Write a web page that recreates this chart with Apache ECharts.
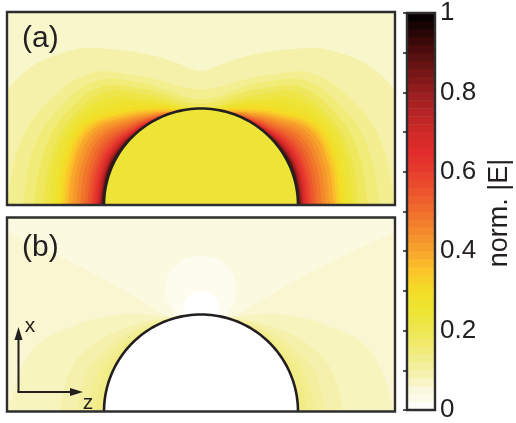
<!DOCTYPE html>
<html>
<head>
<meta charset="utf-8">
<script src="https://cdn.jsdelivr.net/npm/echarts/dist/echarts.min.js"></script>
<style>
  html, body { margin: 0; padding: 0; background: #ffffff; }
  #chart { width: 516px; height: 423px; }
</style>
</head>
<body>
<div id="chart"></div>
<script>
// Polar sample angles (degrees, measured from the substrate plane up to the x axis)
const PHI = [0, 20, 35, 50, 62, 72, 80, 90];

// (a) contour levels of norm. |E| around the particle (radius = 100) and their radii
const levelsA = [0.08, 0.11, 0.14, 0.17, 0.20, 0.23, 0.26, 0.29, 0.32, 0.35, 0.38, 0.41, 0.44, 0.47,
                 0.50, 0.53, 0.56, 0.59, 0.62, 0.65, 0.68, 0.71, 0.74, 0.77, 0.80, 0.83, 0.86, 0.89, 0.92, 0.95];
const radiiA = [
  [246, 232, 230, 209, 182, 163, 150, 139],
  [200, 197, 190, 178, 153, 136, 125, 120],
  [184, 182, 177, 168, 145, 127, 115, 110],
  [172, 171, 168, 160, 137, 121, 110, 105],
  [163, 163, 161, 153, 130, 115, 105, 101.5],
  [157, 158, 157, 145, 124, 111, 103.5, 100.5],
  [151, 152, 151, 137, 120, 108.5, 102, 100],
  [146.5, 148, 147, 129, 115.5, 106, 101, 100],
  [143, 144.6, 143, 124.6, 112.3, 104.1, 100, 100],
  [140, 141, 140, 122, 110.3, 103.1, 100, 100],
  [136.9, 138, 136.9, 119.5, 108.7, 102, 100, 100],
  [132.8, 133.9, 132.8, 116.9, 107.2, 101.5, 100, 100],
  [128.7, 129.8, 128.7, 114.4, 105.6, 101, 100, 100],
  [124.6, 125.7, 124.6, 111.8, 104.6, 100.5, 100, 100],
  [120.5, 121.5, 120.5, 109.7, 103.6, 100, 100, 100],
  [117.4, 118, 116.9, 107.7, 102.6, 100, 100, 100],
  [114.4, 114.9, 113.9, 106.2, 101.8, 100, 100, 100],
  [111.8, 112.3, 111.3, 104.9, 101.2, 100, 100, 100],
  [109.7, 110.3, 109.2, 103.9, 100.8, 100, 100, 100],
  [108.2, 108.5, 107.7, 103.1, 100.5, 100, 100, 100],
  [107, 107.2, 106.4, 102.5, 100.2, 100, 100, 100],
  [105.8, 106.1, 105.3, 101.9, 100, 100, 100, 100],
  [104.9, 105.1, 104.4, 101.5, 100, 100, 100, 100],
  [104.1, 104.3, 103.6, 101.1, 100, 100, 100, 100],
  [103.4, 103.5, 102.9, 100.8, 100, 100, 100, 100],
  [102.8, 102.9, 102.3, 100.5, 100, 100, 100, 100],
  [102.2, 102.3, 101.7, 100.3, 100, 100, 100, 100],
  [101.6, 101.7, 101.2, 100.1, 100, 100, 100, 100],
  [101.1, 101.2, 100.8, 100, 100, 100, 100, 100],
  [100.6, 100.7, 100.4, 100, 100, 100, 100, 100]
];
const backgroundA = 0.065;
const insideA = 0.245;

// (b) field of the second case: side lobes near the substrate and a minimum above the particle
const backgroundB = 0.06;
const levelsB = [0.07, 0.085, 0.10, 0.115, 0.13];
const topLevelB = 0.145;
const radiiB = [
  [199, 184.6, 156, 130.3, 112.8, 102.6, 100, 100],
  [146.2, 140, 127.7, 114.4, 106.2, 101, 100, 100],
  [127.7, 124.1, 116.4, 108.7, 103.6, 100.5, 100, 100],
  [117.4, 114.9, 110.3, 105.6, 102.1, 100, 100, 100],
  [109.2, 107.7, 105.1, 102.6, 101, 100, 100, 100]
];
// low-field regions above the particle (left half, mirrored about z = 0): [z, x]
const wedgeValueB = 0.045;
const wedgeB = [[0, 228.4], [-227.8, 228.4], [-227.8, 200.5], [-200, 185], [-155.7, 164.4],
                [-104.1, 138.7], [-62.9, 115], [-42.3, 102.6], [-16.5, 84], [0, 84]];
const haloValueB = 0.025;
const haloB = [[0, 160.3], [-16.5, 157.2], [-29.9, 146.9], [-36.1, 131.4], [-35.1, 116],
               [-28.9, 102.6], [-21.6, 91.2], [0, 88.1]];
const spotValueB = 0.0;
const spotB = [[0, 123.2], [-9.3, 121.6], [-15.5, 116.5], [-18, 108.8], [-17.5, 100.5],
               [-13.4, 92.3], [0, 92.3]];
const insideB = 0.0;

// colour scale of the colour bar
const cmapStops = [
  [0.00, '#ffffff'], [0.05, '#faf8dc'], [0.10, '#f4f0a4'], [0.15, '#f1eb7c'], [0.20, '#eee752'],
  [0.25, '#ede434'], [0.30, '#f3de26'], [0.35, '#fcc52a'], [0.40, '#f8a42b'], [0.45, '#f4892c'],
  [0.50, '#f06e2c'], [0.55, '#ec552d'], [0.60, '#e83d2e'], [0.65, '#e22d2c'], [0.70, '#cf2828'],
  [0.75, '#b42424'], [0.80, '#981e1e'], [0.85, '#761616'], [0.90, '#520e0e'], [0.95, '#2a0606'],
  [1.00, '#000000']
];
const barLabels = ['0', '0.2', '0.4', '0.6', '0.8', '1'];
const barSteps = 50;

const FONT = '"Liberation Sans", Arial, Helvetica, sans-serif';
const INK = '#231f20';

function hexRgb(h) {
  return [parseInt(h.slice(1, 3), 16), parseInt(h.slice(3, 5), 16), parseInt(h.slice(5, 7), 16)];
}
function cmap(v) {
  v = Math.max(0, Math.min(1, v));
  for (let i = 1; i < cmapStops.length; i++) {
    if (v <= cmapStops[i][0]) {
      const v0 = cmapStops[i - 1][0], v1 = cmapStops[i][0];
      const a = hexRgb(cmapStops[i - 1][1]), b = hexRgb(cmapStops[i][1]);
      const t = (v - v0) / (v1 - v0);
      const c = a.map((x, k) => Math.round(x + (b[k] - x) * t));
      return 'rgb(' + c.join(',') + ')';
    }
  }
  return '#000000';
}

function ringPoints(api, radii) {
  const pts = [];
  for (let i = 0; i < PHI.length; i++) {
    const t = PHI[i] * Math.PI / 180;
    pts.push(api.coord([-radii[i] * Math.cos(t), radii[i] * Math.sin(t)]));
  }
  for (let i = PHI.length - 2; i >= 0; i--) {
    const t = PHI[i] * Math.PI / 180;
    pts.push(api.coord([radii[i] * Math.cos(t), radii[i] * Math.sin(t)]));
  }
  pts.push(api.coord([radii[0], -20]));
  pts.push(api.coord([-radii[0], -20]));
  return pts;
}
function mirrorPoints(api, half) {
  const full = half.concat(half.slice(1, -1).reverse().map(p => [-p[0], p[1]]));
  return full.map(p => api.coord(p));
}
function circlePoints(api) {
  const pts = [];
  for (let a = 0; a <= 180; a += 2) {
    const t = a * Math.PI / 180;
    pts.push(api.coord([-100 * Math.cos(t), 100 * Math.sin(t)]));
  }
  return pts;
}

// drawing lists for the two field panels
const itemsA = [{ kind: 'bg', value: backgroundA }];
levelsA.forEach((L, i) => itemsA.push({
  kind: 'ring', radii: radiiA[i],
  value: (L + (i + 1 < levelsA.length ? levelsA[i + 1] : 1)) / 2
}));
itemsA.push({ kind: 'sphere', value: insideA });
itemsA.push({ kind: 'outline' });

const itemsB = [{ kind: 'bg', value: backgroundB }];
itemsB.push({ kind: 'free', pts: wedgeB, value: wedgeValueB });
itemsB.push({ kind: 'free', pts: haloB, value: haloValueB });
itemsB.push({ kind: 'free', pts: spotB, value: spotValueB });
levelsB.forEach((L, i) => itemsB.push({
  kind: 'ring', radii: radiiB[i],
  value: (L + (i + 1 < levelsB.length ? levelsB[i + 1] : topLevelB)) / 2
}));
itemsB.push({ kind: 'sphere', value: insideB });
itemsB.push({ kind: 'outline' });

function fieldRenderer(items) {
  return function (params, api) {
    const it = items[params.dataIndex];
    const cs = params.coordSys;
    const z2 = params.dataIndex;
    if (it.kind === 'bg') {
      return { type: 'rect', z2: z2, silent: true,
        shape: { x: cs.x, y: cs.y, width: cs.width, height: cs.height },
        style: { fill: cmap(it.value) } };
    }
    if (it.kind === 'ring') {
      return { type: 'polygon', z2: z2, silent: true,
        shape: { points: ringPoints(api, it.radii), smooth: 0.4 },
        style: { fill: cmap(it.value) } };
    }
    if (it.kind === 'free') {
      return { type: 'polygon', z2: z2, silent: true,
        shape: { points: mirrorPoints(api, it.pts), smooth: 0.35 },
        style: { fill: cmap(it.value) } };
    }
    if (it.kind === 'sphere') {
      return { type: 'polygon', z2: z2, silent: true,
        shape: { points: circlePoints(api) },
        style: { fill: cmap(it.value) } };
    }
    return { type: 'polyline', z2: z2, silent: true,
      shape: { points: circlePoints(api) },
      style: { fill: null, stroke: INK, lineWidth: 2.6 } };
  };
}
function frameRenderer(params) {
  const cs = params.coordSys;
  return { type: 'rect', silent: true,
    shape: { x: cs.x, y: cs.y, width: cs.width, height: cs.height },
    style: { fill: null, stroke: '#2e2e2e', lineWidth: 2.4 } };
}

const barData = [];
for (let k = 0; k < barSteps; k++) barData.push([0.5, k / barSteps, (k + 1) / barSteps]);

const chart = echarts.init(document.getElementById('chart'), null, { renderer: 'canvas' });
chart.setOption({
  animation: false,
  backgroundColor: '#ffffff',
  grid: [
    { left: 7, top: 12, width: 388, height: 193 },
    { left: 7, top: 217.5, width: 388, height: 194 },
    { left: 407, top: 12, width: 28, height: 400 }
  ],
  xAxis: [
    { gridIndex: 0, type: 'value', min: -200, max: 200, show: false },
    { gridIndex: 1, type: 'value', min: -200, max: 200, show: false },
    { gridIndex: 2, type: 'value', min: 0, max: 1, show: false }
  ],
  yAxis: [
    { gridIndex: 0, type: 'value', min: 0, max: 200, show: false },
    { gridIndex: 1, type: 'value', min: 0, max: 200, show: false },
    {
      gridIndex: 2, type: 'value', min: 0, max: 1, interval: 0.1, position: 'right', z: 10,
      axisLine: { show: false },
      splitLine: { show: false },
      axisTick: { show: true, inside: true, length: 4, lineStyle: { color: INK, width: 1.5 } },
      axisLabel: {
        margin: 5, fontSize: 26, color: INK, fontFamily: FONT,
        formatter: function (v) {
          const k = Math.round(v * 10);
          return k % 2 === 0 ? barLabels[k / 2] : '';
        }
      }
    }
  ],
  series: [
    { type: 'custom', xAxisIndex: 0, yAxisIndex: 0, clip: true, z: 2,
      data: itemsA.map((_, i) => [0, 100, i]), renderItem: fieldRenderer(itemsA) },
    { type: 'custom', xAxisIndex: 1, yAxisIndex: 1, clip: true, z: 2,
      data: itemsB.map((_, i) => [0, 100, i]), renderItem: fieldRenderer(itemsB) },
    { type: 'custom', xAxisIndex: 2, yAxisIndex: 2, clip: true, z: 2,
      data: barData,
      renderItem: function (params, api) {
        const p0 = api.coord([0, api.value(2)]);
        const p1 = api.coord([1, api.value(1)]);
        return { type: 'rect', silent: true,
          shape: { x: p0[0], y: p0[1], width: p1[0] - p0[0], height: p1[1] - p0[1] + 0.5 },
          style: { fill: cmap((api.value(1) + api.value(2)) / 2) } };
      } },
    { type: 'custom', xAxisIndex: 0, yAxisIndex: 0, clip: false, z: 6, data: [[0, 100]], renderItem: frameRenderer },
    { type: 'custom', xAxisIndex: 1, yAxisIndex: 1, clip: false, z: 6, data: [[0, 100]], renderItem: frameRenderer },
    { type: 'custom', xAxisIndex: 2, yAxisIndex: 2, clip: false, z: 6, data: [[0.5, 0.5]], renderItem: frameRenderer }
  ],
  graphic: [
    { type: 'text', x: 22, y: 39, z: 20, silent: true,
      style: { text: '(a)', font: '30px ' + FONT, fill: INK, verticalAlign: 'middle' } },
    { type: 'text', x: 22, y: 248, z: 20, silent: true,
      style: { text: '(b)', font: '30px ' + FONT, fill: INK, verticalAlign: 'middle' } },
    { type: 'text', x: 500, y: 213, rotation: Math.PI / 2, z: 20, silent: true,
      style: { text: 'norm. |E|', font: '27px ' + FONT, fill: INK, align: 'center', verticalAlign: 'middle' } },
    { type: 'text', x: 30, y: 326, z: 20, silent: true,
      style: { text: 'x', font: '21px ' + FONT, fill: INK, align: 'center', verticalAlign: 'middle' } },
    { type: 'text', x: 88, y: 403, z: 20, silent: true,
      style: { text: 'z', font: '21px ' + FONT, fill: INK, align: 'center', verticalAlign: 'middle' } },
    { type: 'line', z: 20, silent: true, shape: { x1: 18.5, y1: 392, x2: 18.5, y2: 337 },
      style: { stroke: INK, lineWidth: 2 } },
    { type: 'polygon', z: 20, silent: true, shape: { points: [[18.5, 327], [14.5, 340], [22.5, 340]] },
      style: { fill: INK } },
    { type: 'line', z: 20, silent: true, shape: { x1: 17.5, y1: 392, x2: 73, y2: 392 },
      style: { stroke: INK, lineWidth: 2 } },
    { type: 'polygon', z: 20, silent: true, shape: { points: [[83, 392], [70, 388], [70, 396]] },
      style: { fill: INK } }
  ]
});
</script>
</body>
</html>
